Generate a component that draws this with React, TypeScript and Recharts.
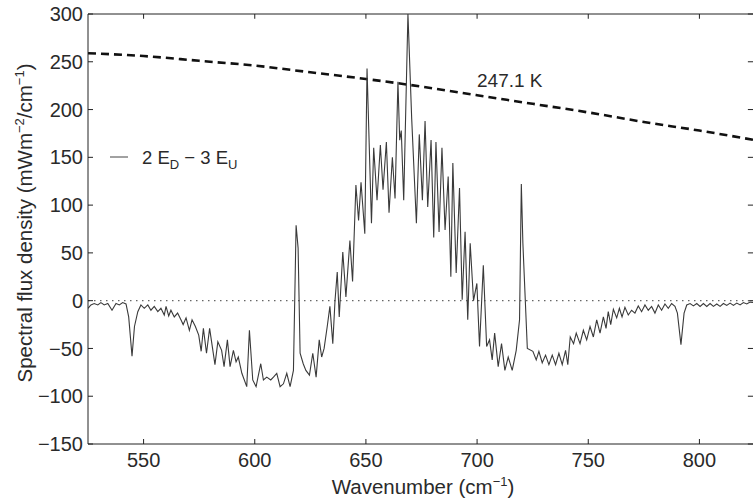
import { Line, LineChart, ReferenceLine, XAxis, YAxis } from 'recharts'

const FONT = '"Liberation Sans", Arial, Helvetica, sans-serif'

// net spectral flux 2 E_D - 3 E_U
const spectrumWavenumber = [
  525.0, 526.3, 527.8, 529.4, 530.8, 532.3, 533.9, 535.8, 537.6, 539.1,
  540.6, 542.1, 543.3, 544.8, 545.9, 547.4, 548.8, 550.3, 551.9, 553.3,
  554.8, 556.4, 557.8, 559.3, 560.1, 561.3, 562.3, 563.8, 565.3, 566.8,
  567.8, 569.1, 570.6, 571.8, 573.3, 574.8, 575.9, 576.9, 578.3, 579.7,
  582.1, 583.4, 585.1, 586.2, 587.7, 588.9, 590.4, 591.6, 592.6, 594.2,
  596.4, 597.6, 599.1, 600.6, 602.7, 603.9, 605.4, 607.2, 608.4, 609.9,
  611.4, 612.9, 614.4, 615.9, 617.4, 618.6, 619.5, 620.4, 621.8, 623.0,
  624.6, 626.1, 627.6, 629.0, 630.1, 631.2, 632.6, 633.8, 635.1, 636.1,
  637.1, 638.0, 639.6, 641.0, 642.8, 644.0, 645.5, 646.7, 647.8, 649.5,
  650.5, 652.5, 653.5, 655.0, 656.5, 657.7, 659.2, 660.4, 661.9, 663.1,
  664.4, 665.2, 665.9, 667.0, 668.9, 670.6, 672.7, 674.0, 675.4, 676.6,
  677.8, 679.3, 680.5, 681.5, 682.9, 684.2, 685.6, 687.0, 688.2, 689.1,
  690.6, 692.1, 693.3, 694.6, 695.8, 696.9, 698.4, 699.9, 701.1, 702.8,
  704.3, 705.6, 706.8, 707.9, 709.5, 711.0, 712.5, 714.0, 715.8, 717.6,
  719.1, 719.9, 720.6, 722.6, 725.1, 726.6, 727.8, 729.3, 730.8, 732.3,
  733.8, 735.3, 736.8, 738.3, 739.8, 740.8, 741.9, 743.4, 744.6, 746.3,
  747.8, 749.3, 750.8, 752.3, 753.8, 755.3, 756.8, 758.0, 759.0, 760.1,
  761.3, 762.8, 764.0, 765.2, 766.5, 768.0, 769.5, 771.0, 772.5, 774.0,
  775.5, 777.0, 778.5, 780.0, 781.5, 783.0, 784.5, 786.0, 787.5, 789.0,
  790.1, 791.7, 793.1, 794.3, 795.8, 797.3, 798.8, 800.3, 801.8, 803.3,
  804.8, 806.3, 807.8, 809.3, 810.8, 812.3, 813.8, 815.3, 816.8, 818.3,
  819.8, 821.3, 822.8, 825.0,
]
const spectrumFlux = [
  -8, -4.5, -3, -4.5, -2, -4.5, -3, -10, -3, -4.5,
  -2, -3.5, -17, -58, -27, -11.5, -4.5, -8, -4.5, -10,
  -6, -11.5, -8, -15, -6, -16, -10, -17, -13, -20,
  -25, -18, -31, -20, -27, -36, -53, -29, -55, -29,
  -67, -43, -52, -69, -41, -69, -52, -64, -59, -76,
  -90, -31, -83, -90, -66, -83, -80, -83, -80, -76,
  -90, -87, -76, -90, -73, 79, 55, -55, -66, -73,
  -78, -55, -80, -41, -59, -50, -27, -6, -45, 0,
  30, -17, 51, 4, 63, 20, 121, 84, 124, 70,
  243, 81, 160, 105, 163, 116, 166, 92, 150, 107,
  229, 168, 178, 105, 300, 190, 81, 174, 105, 188,
  98, 168, 66, 166, 72, 160, 74, 130, 25, 144,
  29, 118, 1, 72, -20, 60, 0, 18, -48, 37,
  -48, -41, -62, -34, -69, -45, -73, -59, -73, -52,
  -20, 122, 60, -50, -53, -62, -53, -65, -57, -67,
  -57, -67, -55, -67, -52, -67, -38, -45, -34, -45,
  -31, -41, -27, -38, -20, -34, -17, -29, -11.5, -25,
  -9, -18, -8, -17, -7, -15, -10, -13, -5.5, -11.5,
  -4.5, -10, -6, -13, -4.5, -10, -3.5, -8, -3, -6,
  -13, -46, -13, -4.5, -3, -5.5, -3, -6, -3, -6,
  -3, -6, -3.5, -6, -3, -5, -2.5, -5, -2.5, -4.5,
  -2, -3.5, -1.5, -2,
]

// blackbody curve labelled 247.1 K
const planckWavenumber = [525, 550, 575, 600, 625, 650, 675, 700, 725, 750, 775, 800, 825]
const planckFlux = [259, 256, 251, 246, 239, 232, 224, 215, 206, 197, 187, 178, 168]

const xTicks = [550, 600, 650, 700, 750, 800]
const yTicks = [-150, -100, -50, 0, 50, 100, 150, 200, 250, 300]

const X_MIN = 525
const X_MAX = 825
const Y_MIN = -150
const Y_MAX = 300

const spectrumData = spectrumWavenumber.map((x, i) => ({ x, y: spectrumFlux[i] }))
const planckData = planckWavenumber.map((x, i) => ({ x, y: planckFlux[i] }))

const minus = (v: number) => (v < 0 ? `\u2212${Math.abs(v)}` : `${v}`)

const INK = '#2a2a2a'
const tickStyle = { fill: INK, fontSize: 20, fontFamily: FONT }

const XLabel = () => (
  <text x={423} y={494} textAnchor="middle" fontSize={20.5} fill={INK} fontFamily={FONT}>
    Wavenumber (cm
    <tspan dy={-8} fontSize={13}>
      {'\u22121'}
    </tspan>
    <tspan dy={8}>)</tspan>
  </text>
)

const YLabel = () => (
  <text
    transform="rotate(-90)"
    x={-223}
    y={32}
    textAnchor="middle"
    fontSize={20.5}
    fill={INK}
    fontFamily={FONT}
  >
    Spectral flux density (mWm
    <tspan dy={-8} fontSize={13}>
      {'\u22122'}
    </tspan>
    <tspan dy={8}>/cm</tspan>
    <tspan dy={-8} fontSize={13}>
      {'\u22121'}
    </tspan>
    <tspan dy={8}>)</tspan>
  </text>
)

export default function App() {
  return (
    <div
      style={{
        position: 'absolute',
        left: 0,
        top: 0,
        width: 753,
        height: 503,
        overflow: 'hidden',
        background: '#fff',
        fontFamily: FONT,
      }}
    >
      <LineChart width={760} height={503} margin={{ top: 14, right: 5, bottom: 0, left: 0 }}>
        <XAxis
          dataKey="x"
          type="number"
          domain={[X_MIN, X_MAX]}
          ticks={xTicks}
          allowDataOverflow
          height={59}
          tickSize={-5}
          tickMargin={14}
          tick={tickStyle}
          stroke="#222"
          label={<XLabel />}
        />
        <YAxis
          type="number"
          domain={[Y_MIN, Y_MAX]}
          ticks={yTicks}
          allowDataOverflow
          width={88}
          tickSize={-5}
          tickMargin={10}
          tick={tickStyle}
          tickFormatter={minus}
          stroke="#222"
          label={<YLabel />}
        />
        {/* box: top and right edges with inward ticks */}
        <ReferenceLine y={Y_MAX} stroke="#222" strokeWidth={1} />
        <ReferenceLine x={X_MAX} stroke="#222" strokeWidth={1} />
        {xTicks.map((t) => (
          <ReferenceLine
            key={`tt${t}`}
            segment={[
              { x: t, y: Y_MAX },
              { x: t, y: Y_MAX - 5 },
            ]}
            stroke="#222"
          />
        ))}
        {yTicks.map((t) => (
          <ReferenceLine
            key={`rt${t}`}
            segment={[
              { x: X_MAX, y: t },
              { x: X_MAX - 3.2, y: t },
            ]}
            stroke="#222"
          />
        ))}
        <ReferenceLine y={0} stroke="#666" strokeWidth={1.2} strokeDasharray="1.5 4.5" />
        <Line
          data={planckData}
          dataKey="y"
          type="monotone"
          stroke="#111"
          strokeWidth={2.6}
          strokeDasharray="8 5"
          dot={false}
          isAnimationActive={false}
        />
        <Line
          data={spectrumData}
          dataKey="y"
          type="linear"
          stroke="#3a3a3a"
          strokeWidth={1.1}
          dot={false}
          isAnimationActive={false}
        />
      </LineChart>
      <svg
        width={753}
        height={503}
        style={{ position: 'absolute', left: 0, top: 0, pointerEvents: 'none' }}
      >
        <line x1={110} y1={157} x2={128} y2={157} stroke="#444" strokeWidth={1} />
        <text x={142} y={164} fontSize={18.5} fill={INK} fontFamily={FONT}>
          2 E
          <tspan dy={5} fontSize={13}>
            D
          </tspan>
          <tspan dy={-5}>{' \u2212 3 E'}</tspan>
          <tspan dy={5} fontSize={13}>
            U
          </tspan>
        </text>
        <text x={477} y={87} fontSize={19} fill={INK} fontFamily={FONT}>
          247.1 K
        </text>
      </svg>
    </div>
  )
}
